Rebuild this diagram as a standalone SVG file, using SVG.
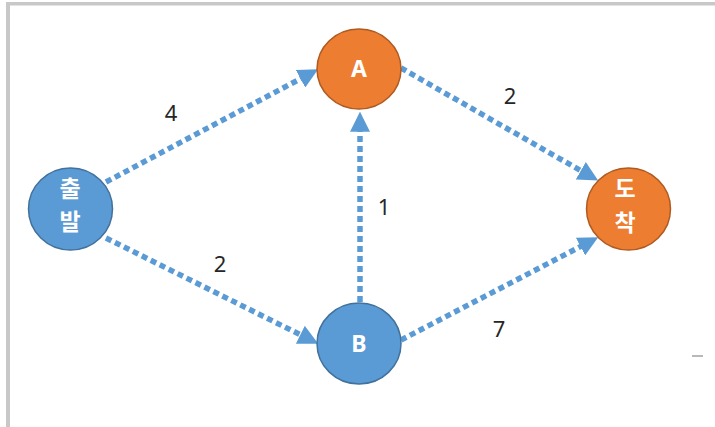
<svg xmlns="http://www.w3.org/2000/svg" width="715" height="427" viewBox="0 0 715 427">
  <style>
    .edge { fill: none; stroke: #5b9bd5; stroke-width: 5.5; stroke-dasharray: 6 4; marker-end: url(#arrow); }
    .blue { fill: #5b9bd5; stroke: #41719c; stroke-width: 1.5; }
    .orange { fill: #ed7d31; stroke: #ae5a21; stroke-width: 1.5; }
    .nlabel { fill: #ffffff; font-family: "Noto Sans", "Liberation Sans", sans-serif; font-weight: bold; font-size: 23px; text-anchor: middle; }
    .klabel { fill: #ffffff; font-family: "Noto Sans CJK KR", sans-serif; font-weight: bold; font-size: 23px; text-anchor: middle; }
    .wlabel { fill: #262626; font-family: "Noto Sans", "Liberation Sans", sans-serif; font-size: 22px; text-anchor: middle; }
  </style>
  <defs>
    <marker id="arrow" markerUnits="userSpaceOnUse" markerWidth="20" markerHeight="20" viewBox="0 0 18 18" refX="6" refY="9" orient="auto">
      <path d="M0,0 L18,9 L0,18 Z" fill="#5b9bd5"/>
    </marker>
  </defs>
  <rect x="0" y="0" width="715" height="427" fill="#ffffff"/>
  <g id="frame">
    <rect x="6" y="2" width="709" height="3.5" fill="#c8c8c8"/>
    <rect x="6" y="2" width="4" height="425" fill="#c8c8c8"/>
    <line x1="692" y1="356" x2="703" y2="356" stroke="#a0a0a0" stroke-width="1.5"/>
  </g>
  <g id="connectors">
    <line class="edge" x1="106" y1="182" x2="306.4" y2="75.6"/>
    <line class="edge" x1="106" y1="238" x2="306.3" y2="337.7"/>
    <line class="edge" x1="401" y1="68" x2="586.6" y2="174"/>
    <line class="edge" x1="401" y1="340" x2="586.4" y2="243.5"/>
    <line class="edge" x1="360" y1="302" x2="360" y2="125"/>
    <text class="wlabel" x="171" y="121">4</text>
    <text class="wlabel" x="220" y="272">2</text>
    <text class="wlabel" x="384" y="215">1</text>
    <text class="wlabel" x="510" y="104">2</text>
    <text class="wlabel" x="499" y="337">7</text>
  </g>
  <g id="node-start">
    <ellipse class="blue" cx="70.5" cy="209" rx="42" ry="41"/>
    <text class="klabel" x="70" y="197">출</text>
    <text class="klabel" x="70" y="230">발</text>
  </g>
  <g id="node-A">
    <ellipse class="orange" cx="359" cy="69" rx="42" ry="40"/>
    <text class="nlabel" x="359" y="77">A</text>
  </g>
  <g id="node-B">
    <ellipse class="blue" cx="359" cy="343.5" rx="42" ry="40.5"/>
    <text class="nlabel" x="359" y="352">B</text>
  </g>
  <g id="node-end">
    <ellipse class="orange" cx="628.5" cy="209" rx="42" ry="41"/>
    <text class="klabel" x="625" y="197">도</text>
    <text class="klabel" x="625" y="231">착</text>
  </g>
</svg>
